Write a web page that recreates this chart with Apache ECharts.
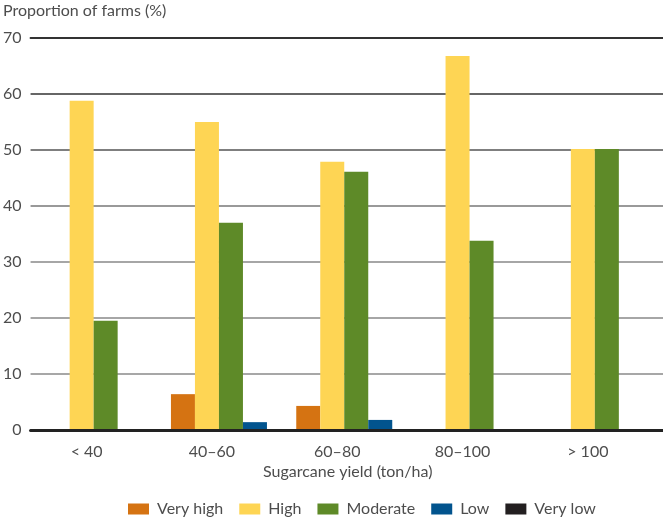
<!DOCTYPE html>
<html>
<head>
<meta charset="utf-8">
<script src="https://cdn.jsdelivr.net/npm/echarts@6/dist/echarts.min.js"></script>
<style>
html,body{margin:0;padding:0;background:#fff;}
#c{width:663px;height:520px;}
</style>
</head>
<body>
<div id="c"></div>
<script>
var categories = ['< 40', '40–60', '60–80', '80–100', '> 100'];
var veryHigh = [0, 6.4, 4.3, 0, 0];
var high = [58.8, 55.0, 47.9, 66.8, 50.2];
var moderate = [19.5, 37.0, 46.1, 33.8, 50.2];
var low = [0, 1.4, 1.8, 0, 0];
var veryLow = [0, 0, 0, 0, 0];
var yTicks = [0, 10, 20, 30, 40, 50, 60, 70];

var FONT = 'Lato, "Noto Sans", sans-serif';
var TXT = '#4d4d4d';
var chart = echarts.init(document.getElementById('c'));
function bar(name, data, color, xi) {
  return {
    name: name, type: 'bar', data: data, xAxisIndex: xi, yAxisIndex: xi,
    barWidth: 24, barGap: '0%', itemStyle: { color: color }, silent: true
  };
}
chart.setOption({
  animation: false,
  textStyle: { fontFamily: FONT },
  graphic: [
    { type: 'text', left: 3, top: 3, style: { text: 'Proportion of farms (%)', fontSize: 16, fill: TXT, fontFamily: FONT } },
    { type: 'text', left: 263, top: 464, style: { text: 'Sugarcane yield (ton/ha)', fontSize: 16, fill: TXT, fontFamily: FONT } }
  ],
  legend: {
    left: 123, top: 496, itemWidth: 21, itemHeight: 11, itemGap: 16,
    icon: 'rect',
    textStyle: { fontSize: 16, color: TXT, fontFamily: FONT, padding: [0, 0, 0, 3] },
    data: ['Very high', 'High', 'Moderate', 'Low', 'Very low']
  },
  grid: [
    { left: 30, right: 0, top: 38, bottom: 90 },
    { left: 31, right: 5.5, top: 38, bottom: 90 }
  ],
  xAxis: [
    { type: 'category', gridIndex: 0, data: categories, position: 'bottom',
      axisLine: { show: true, lineStyle: { color: '#222', width: 3 } },
      axisTick: { show: false }, axisLabel: { show: false }, z: 5 },
    { type: 'category', gridIndex: 1, data: categories, position: 'bottom',
      axisLine: { show: false }, axisTick: { show: false },
      axisLabel: { fontSize: 16, color: TXT, fontFamily: FONT, margin: 14, padding: [0, 14, 0, 0] } },
    { type: 'category', gridIndex: 0, data: categories, position: 'top',
      axisLine: { show: true, lineStyle: { color: '#333', width: 2 } },
      axisTick: { show: false }, axisLabel: { show: false } }
  ],
  yAxis: [
    { type: 'value', gridIndex: 0, min: yTicks[0], max: yTicks[yTicks.length - 1], interval: 10,
      axisLine: { show: false }, axisTick: { show: false },
      axisLabel: { fontSize: 16, color: TXT, fontFamily: FONT, margin: 9 },
      splitLine: { show: true, lineStyle: { width: 1.5, color: ['#222', '#8a8a8a', '#888', '#888', '#777', '#555', '#333', '#333'] } } },
    { type: 'value', gridIndex: 1, min: yTicks[0], max: yTicks[yTicks.length - 1], interval: 10,
      show: false, splitLine: { show: false } }
  ],
  series: [
    bar('Very high', veryHigh, '#d57312', 1),
    bar('High', high, '#fed554', 1),
    bar('Moderate', moderate, '#5e8a28', 1),
    bar('Low', low, '#02548e', 1),
    { name: 'Very low', type: 'bar', data: veryLow, xAxisIndex: 0, yAxisIndex: 0,
      barWidth: 24, itemStyle: { color: '#231f20' }, silent: true }
  ]
});
</script>
</body>
</html>
